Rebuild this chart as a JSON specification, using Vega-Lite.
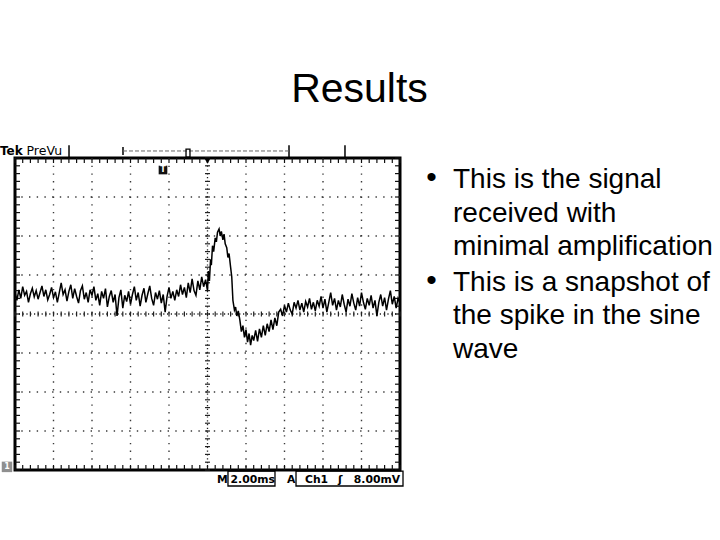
{
  "$schema": "https://vega.github.io/schema/vega-lite/v6.json",
  "width": 385,
  "height": 312,
  "autosize": {"type": "none"},
  "padding": {"left": 15, "top": 158, "right": 320, "bottom": 70},
  "background": "white",
  "config": {"view": {"stroke": "#000000", "strokeWidth": 3}},
  "datasets": {
    "sig": [
      {"t":0.00,"v":0.55},{"t":0.05,"v":0.35},{"t":0.10,"v":0.62},{"t":0.15,"v":0.40},{"t":0.20,"v":0.70},
      {"t":0.25,"v":0.48},{"t":0.30,"v":0.58},{"t":0.35,"v":0.30},{"t":0.40,"v":0.52},{"t":0.45,"v":0.66},
      {"t":0.50,"v":0.44},{"t":0.55,"v":0.60},{"t":0.60,"v":0.38},{"t":0.65,"v":0.55},{"t":0.70,"v":0.72},
      {"t":0.75,"v":0.45},{"t":0.80,"v":0.62},{"t":0.85,"v":0.36},{"t":0.90,"v":0.50},{"t":0.95,"v":0.68},
      {"t":1.00,"v":0.42},{"t":1.05,"v":0.57},{"t":1.10,"v":0.30},{"t":1.15,"v":0.55},{"t":1.20,"v":0.80},
      {"t":1.25,"v":0.50},{"t":1.30,"v":0.62},{"t":1.35,"v":0.33},{"t":1.40,"v":0.58},{"t":1.45,"v":0.75},
      {"t":1.50,"v":0.40},{"t":1.55,"v":0.65},{"t":1.60,"v":0.45},{"t":1.65,"v":0.28},{"t":1.70,"v":0.60},
      {"t":1.75,"v":0.72},{"t":1.80,"v":0.38},{"t":1.85,"v":0.55},{"t":1.90,"v":0.30},{"t":1.95,"v":0.62},
      {"t":2.00,"v":0.48},{"t":2.05,"v":0.70},{"t":2.10,"v":0.35},{"t":2.15,"v":0.52},{"t":2.20,"v":0.22},
      {"t":2.25,"v":0.58},{"t":2.30,"v":0.40},{"t":2.35,"v":0.65},{"t":2.40,"v":0.18},{"t":2.45,"v":0.45},
      {"t":2.50,"v":0.60},{"t":2.55,"v":0.30},{"t":2.60,"v":0.50},{"t":2.65,"v":-0.05},{"t":2.70,"v":0.42},
      {"t":2.75,"v":0.62},{"t":2.80,"v":0.15},{"t":2.85,"v":0.48},{"t":2.90,"v":0.32},{"t":2.95,"v":0.58},
      {"t":3.00,"v":0.25},{"t":3.05,"v":0.50},{"t":3.10,"v":0.70},{"t":3.15,"v":0.35},{"t":3.20,"v":0.55},
      {"t":3.25,"v":0.20},{"t":3.30,"v":0.48},{"t":3.35,"v":0.66},{"t":3.40,"v":0.30},{"t":3.45,"v":0.52},
      {"t":3.50,"v":0.72},{"t":3.55,"v":0.40},{"t":3.60,"v":0.22},{"t":3.65,"v":0.55},{"t":3.70,"v":0.38},
      {"t":3.75,"v":0.60},{"t":3.80,"v":0.28},{"t":3.85,"v":0.50},{"t":3.90,"v":0.05},{"t":3.95,"v":0.45},
      {"t":4.00,"v":0.68},{"t":4.05,"v":0.40},{"t":4.10,"v":0.58},{"t":4.15,"v":0.35},{"t":4.20,"v":0.62},
      {"t":4.25,"v":0.45},{"t":4.30,"v":0.75},{"t":4.35,"v":0.50},{"t":4.40,"v":0.68},{"t":4.45,"v":0.42},
      {"t":4.50,"v":0.80},{"t":4.55,"v":0.55},{"t":4.60,"v":0.90},{"t":4.65,"v":0.60},{"t":4.70,"v":0.48},
      {"t":4.75,"v":0.85},{"t":4.80,"v":0.62},{"t":4.85,"v":0.95},{"t":4.90,"v":0.70},{"t":4.95,"v":0.88},
      {"t":5.00,"v":0.60},{"t":5.02,"v":1.10},{"t":5.05,"v":0.85},{"t":5.08,"v":1.40},{"t":5.10,"v":1.25},
      {"t":5.13,"v":1.75},{"t":5.16,"v":1.60},{"t":5.20,"v":1.95},{"t":5.23,"v":1.85},{"t":5.26,"v":2.10},
      {"t":5.30,"v":2.18},{"t":5.33,"v":2.00},{"t":5.36,"v":2.12},{"t":5.40,"v":1.90},{"t":5.43,"v":2.05},
      {"t":5.46,"v":1.80},{"t":5.50,"v":1.70},{"t":5.53,"v":1.45},{"t":5.56,"v":1.55},{"t":5.60,"v":1.20},
      {"t":5.63,"v":0.95},{"t":5.66,"v":0.35},{"t":5.70,"v":0.10},{"t":5.73,"v":0.18},{"t":5.76,"v":-0.05},
      {"t":5.80,"v":0.08},{"t":5.84,"v":-0.15},{"t":5.88,"v":-0.45},{"t":5.92,"v":-0.30},{"t":5.96,"v":-0.60},
      {"t":6.00,"v":-0.40},{"t":6.04,"v":-0.72},{"t":6.08,"v":-0.50},{"t":6.12,"v":-0.80},{"t":6.16,"v":-0.55},
      {"t":6.20,"v":-0.68},{"t":6.25,"v":-0.42},{"t":6.30,"v":-0.70},{"t":6.35,"v":-0.38},{"t":6.40,"v":-0.60},
      {"t":6.45,"v":-0.30},{"t":6.50,"v":-0.55},{"t":6.55,"v":-0.25},{"t":6.60,"v":-0.45},{"t":6.65,"v":-0.15},
      {"t":6.70,"v":-0.40},{"t":6.75,"v":-0.10},{"t":6.80,"v":-0.30},{"t":6.85,"v":0.05},{"t":6.90,"v":0.12},
      {"t":6.95,"v":-0.05},{"t":7.00,"v":0.22},{"t":7.05,"v":0.05},{"t":7.10,"v":0.28},{"t":7.15,"v":0.10},
      {"t":7.20,"v":0.00},{"t":7.25,"v":0.30},{"t":7.30,"v":0.15},{"t":7.35,"v":0.35},{"t":7.40,"v":0.10},
      {"t":7.45,"v":0.28},{"t":7.50,"v":0.05},{"t":7.55,"v":0.32},{"t":7.60,"v":0.18},{"t":7.65,"v":0.40},
      {"t":7.70,"v":0.12},{"t":7.75,"v":0.30},{"t":7.80,"v":0.08},{"t":7.85,"v":0.35},{"t":7.90,"v":0.20},
      {"t":7.95,"v":0.45},{"t":8.00,"v":0.15},{"t":8.05,"v":0.38},{"t":8.10,"v":0.05},{"t":8.15,"v":0.30},
      {"t":8.20,"v":0.55},{"t":8.25,"v":0.22},{"t":8.30,"v":0.40},{"t":8.35,"v":0.10},{"t":8.40,"v":0.35},
      {"t":8.45,"v":0.18},{"t":8.50,"v":0.50},{"t":8.55,"v":0.25},{"t":8.60,"v":0.05},{"t":8.65,"v":0.38},
      {"t":8.70,"v":0.20},{"t":8.75,"v":0.52},{"t":8.80,"v":0.28},{"t":8.85,"v":0.10},{"t":8.90,"v":0.42},
      {"t":8.95,"v":0.20},{"t":9.00,"v":0.55},{"t":9.05,"v":0.30},{"t":9.10,"v":0.12},{"t":9.15,"v":0.40},
      {"t":9.20,"v":0.22},{"t":9.25,"v":0.48},{"t":9.30,"v":0.15},{"t":9.35,"v":0.35},{"t":9.40,"v":-0.05},
      {"t":9.45,"v":0.30},{"t":9.50,"v":0.50},{"t":9.55,"v":0.20},{"t":9.60,"v":0.42},{"t":9.65,"v":0.10},
      {"t":9.70,"v":0.38},{"t":9.75,"v":0.60},{"t":9.80,"v":0.25},{"t":9.85,"v":0.45},{"t":9.90,"v":0.15},
      {"t":9.95,"v":0.40},{"t":10.00,"v":0.28}
    ],
    "gx": [{"v":1},{"v":2},{"v":3},{"v":4},{"v":6},{"v":7},{"v":8},{"v":9}],
    "gy": [{"v":-3},{"v":-2},{"v":-1},{"v":1},{"v":2},{"v":3}],
    "tx": [
      {"v":0},{"v":0.2},{"v":0.4},{"v":0.6},{"v":0.8},{"v":1},{"v":1.2},{"v":1.4},{"v":1.6},{"v":1.8},
      {"v":2},{"v":2.2},{"v":2.4},{"v":2.6},{"v":2.8},{"v":3},{"v":3.2},{"v":3.4},{"v":3.6},{"v":3.8},
      {"v":4},{"v":4.2},{"v":4.4},{"v":4.6},{"v":4.8},{"v":5},{"v":5.2},{"v":5.4},{"v":5.6},{"v":5.8},
      {"v":6},{"v":6.2},{"v":6.4},{"v":6.6},{"v":6.8},{"v":7},{"v":7.2},{"v":7.4},{"v":7.6},{"v":7.8},
      {"v":8},{"v":8.2},{"v":8.4},{"v":8.6},{"v":8.8},{"v":9},{"v":9.2},{"v":9.4},{"v":9.6},{"v":9.8},{"v":10}
    ],
    "ty": [
      {"v":-4},{"v":-3.8},{"v":-3.6},{"v":-3.4},{"v":-3.2},{"v":-3},{"v":-2.8},{"v":-2.6},{"v":-2.4},{"v":-2.2},
      {"v":-2},{"v":-1.8},{"v":-1.6},{"v":-1.4},{"v":-1.2},{"v":-1},{"v":-0.8},{"v":-0.6},{"v":-0.4},{"v":-0.2},
      {"v":0},{"v":0.2},{"v":0.4},{"v":0.6},{"v":0.8},{"v":1},{"v":1.2},{"v":1.4},{"v":1.6},{"v":1.8},
      {"v":2},{"v":2.2},{"v":2.4},{"v":2.6},{"v":2.8},{"v":3},{"v":3.2},{"v":3.4},{"v":3.6},{"v":3.8},{"v":4}
    ],
    "hdr": [
      {"x":1.403,"y":4.0,"y2":4.33},
      {"x":7.117,"y":4.0,"y2":4.33},
      {"x":8.571,"y":4.0,"y2":4.33},
      {"x":2.805,"y":4.08,"y2":4.28}
    ],
    "hseg": [{"x":2.805,"x2":7.117,"y":4.18}],
    "boxes": [
      {"x":4.442,"x2":4.545,"y":4.02,"y2":4.23,"k":"top"},
      {"x":5.532,"x2":6.753,"y":-4.03,"y2":-4.41,"k":"bot"},
      {"x":7.299,"x2":10.078,"y":-4.03,"y2":-4.41,"k":"bot"}
    ],
    "pts": [
      {"x":5,"y":3.93,"k":"trig"},
      {"x":3.844,"y":3.692,"k":"tmark"},
      {"x":-0.208,"y":-3.92,"k":"gnd"}
    ],
    "txt": [
      {"x":8.948,"y":5.44,"label":"Results","g":"title"},
      {"x":10.68,"y":3.231,"label":"•","g":"bullet"},
      {"x":10.68,"y":0.590,"label":"•","g":"bullet"},
      {"x":11.377,"y":3.231,"label":"This is the signal","g":"body"},
      {"x":11.377,"y":2.359,"label":"received with","g":"body"},
      {"x":11.377,"y":1.513,"label":"minimal amplification","g":"body"},
      {"x":11.377,"y":0.590,"label":"This is a snapshot of","g":"body"},
      {"x":11.377,"y":-0.256,"label":"the spike in the sine","g":"body"},
      {"x":11.377,"y":-1.128,"label":"wave","g":"body"},
      {"x":-0.39,"y":4.077,"label":"Tek","g":"tek"},
      {"x":0.30,"y":4.077,"label":"PreVu","g":"prevu"},
      {"x":5.247,"y":-4.33,"label":"M","g":"osc"},
      {"x":5.60,"y":-4.33,"label":"2.00ms","g":"osc"},
      {"x":7.065,"y":-4.33,"label":"A","g":"osc"},
      {"x":7.532,"y":-4.33,"label":"Ch1","g":"osc"},
      {"x":8.39,"y":-4.33,"label":"ʃ","g":"osc"},
      {"x":8.80,"y":-4.33,"label":"8.00mV","g":"osc"},
      {"x":3.844,"y":3.692,"label":"T","g":"tm"},
      {"x":-0.208,"y":-3.92,"label":"1","g":"gn"}
    ]
  },
  "layer": [
    {
      "data": {"name": "gx"},
      "mark": {"type": "rule", "color": "#3a3a3a", "strokeWidth": 1.4, "strokeDash": [1.4, 6.3]},
      "encoding": {
        "x": {"field": "v", "type": "quantitative", "scale": {"domain": [0, 10], "nice": false, "zero": false}, "axis": null}
      }
    },
    {
      "data": {"name": "gy"},
      "mark": {"type": "rule", "color": "#3a3a3a", "strokeWidth": 1.4, "strokeDash": [1.4, 6.3]},
      "encoding": {
        "y": {"field": "v", "type": "quantitative", "scale": {"domain": [-4, 4], "nice": false, "zero": false}, "axis": null}
      }
    },
    {
      "data": {"values": [{"v": 5}]},
      "mark": {"type": "rule", "color": "#222222", "strokeWidth": 1.3, "strokeDash": [1.2, 2.6]},
      "encoding": {
        "x": {"field": "v", "type": "quantitative", "scale": {"domain": [0, 10], "nice": false, "zero": false}, "axis": null}
      }
    },
    {
      "data": {"values": [{"v": 0}]},
      "mark": {"type": "rule", "color": "#222222", "strokeWidth": 1.3, "strokeDash": [1.2, 2.6]},
      "encoding": {
        "y": {"field": "v", "type": "quantitative", "scale": {"domain": [-4, 4], "nice": false, "zero": false}, "axis": null}
      }
    },
    {
      "data": {"name": "ty"},
      "mark": {"type": "rule", "color": "#222222", "strokeWidth": 1.2, "xOffset": -2.5, "x2Offset": 2.5},
      "encoding": {
        "x": {"datum": 5, "type": "quantitative", "scale": {"domain": [0, 10], "nice": false, "zero": false}, "axis": null},
        "x2": {"datum": 5},
        "y": {"field": "v", "type": "quantitative", "scale": {"domain": [-4, 4], "nice": false, "zero": false}, "axis": null}
      }
    },
    {
      "data": {"name": "tx"},
      "mark": {"type": "rule", "color": "#222222", "strokeWidth": 1.2, "yOffset": -2.5, "y2Offset": 2.5},
      "encoding": {
        "x": {"field": "v", "type": "quantitative", "scale": {"domain": [0, 10], "nice": false, "zero": false}, "axis": null},
        "y": {"datum": 0, "type": "quantitative", "scale": {"domain": [-4, 4], "nice": false, "zero": false}, "axis": null},
        "y2": {"datum": 0}
      }
    },
    {
      "data": {"name": "tx"},
      "mark": {"type": "rule", "color": "#111111", "strokeWidth": 1.2, "yOffset": 0, "y2Offset": 5},
      "encoding": {
        "x": {"field": "v", "type": "quantitative", "scale": {"domain": [0, 10], "nice": false, "zero": false}, "axis": null},
        "y": {"datum": 4, "type": "quantitative", "scale": {"domain": [-4, 4], "nice": false, "zero": false}, "axis": null},
        "y2": {"datum": 4}
      }
    },
    {
      "data": {"name": "tx"},
      "mark": {"type": "rule", "color": "#111111", "strokeWidth": 1.2, "yOffset": -5, "y2Offset": 0},
      "encoding": {
        "x": {"field": "v", "type": "quantitative", "scale": {"domain": [0, 10], "nice": false, "zero": false}, "axis": null},
        "y": {"datum": -4, "type": "quantitative", "scale": {"domain": [-4, 4], "nice": false, "zero": false}, "axis": null},
        "y2": {"datum": -4}
      }
    },
    {
      "data": {"name": "ty"},
      "mark": {"type": "rule", "color": "#111111", "strokeWidth": 1.2, "xOffset": 0, "x2Offset": 5},
      "encoding": {
        "x": {"datum": 0, "type": "quantitative", "scale": {"domain": [0, 10], "nice": false, "zero": false}, "axis": null},
        "x2": {"datum": 0},
        "y": {"field": "v", "type": "quantitative", "scale": {"domain": [-4, 4], "nice": false, "zero": false}, "axis": null}
      }
    },
    {
      "data": {"name": "ty"},
      "mark": {"type": "rule", "color": "#111111", "strokeWidth": 1.2, "xOffset": -5, "x2Offset": 0},
      "encoding": {
        "x": {"datum": 10, "type": "quantitative", "scale": {"domain": [0, 10], "nice": false, "zero": false}, "axis": null},
        "x2": {"datum": 10},
        "y": {"field": "v", "type": "quantitative", "scale": {"domain": [-4, 4], "nice": false, "zero": false}, "axis": null}
      }
    },
    {
      "data": {"name": "sig"},
      "mark": {"type": "line", "color": "#000000", "strokeWidth": 1.5},
      "encoding": {
        "x": {"field": "t", "type": "quantitative", "scale": {"domain": [0, 10], "nice": false, "zero": false}, "axis": null},
        "y": {"field": "v", "type": "quantitative", "scale": {"domain": [-4, 4], "nice": false, "zero": false}, "axis": null}
      }
    },
    {
      "data": {"name": "hdr"},
      "mark": {"type": "rule", "color": "#000000", "strokeWidth": 1.5},
      "encoding": {
        "x": {"field": "x", "type": "quantitative", "scale": {"domain": [0, 10], "nice": false, "zero": false}, "axis": null},
        "y": {"field": "y", "type": "quantitative", "scale": {"domain": [-4, 4], "nice": false, "zero": false}, "axis": null},
        "y2": {"field": "y2"}
      }
    },
    {
      "data": {"name": "hseg"},
      "mark": {"type": "rule", "color": "#666666", "strokeWidth": 1, "strokeDash": [4, 2]},
      "encoding": {
        "x": {"field": "x", "type": "quantitative", "scale": {"domain": [0, 10], "nice": false, "zero": false}, "axis": null},
        "x2": {"field": "x2"},
        "y": {"field": "y", "type": "quantitative", "scale": {"domain": [-4, 4], "nice": false, "zero": false}, "axis": null}
      }
    },
    {
      "data": {"name": "boxes"},
      "mark": {"type": "rect", "filled": false, "stroke": "#000000", "strokeWidth": 1.3},
      "encoding": {
        "x": {"field": "x", "type": "quantitative", "scale": {"domain": [0, 10], "nice": false, "zero": false}, "axis": null},
        "x2": {"field": "x2"},
        "y": {"field": "y", "type": "quantitative", "scale": {"domain": [-4, 4], "nice": false, "zero": false}, "axis": null},
        "y2": {"field": "y2"}
      }
    },
    {
      "data": {"name": "pts"},
      "transform": [{"filter": "datum.k === 'trig'"}],
      "mark": {"type": "point", "shape": "triangle-down", "filled": true, "color": "#000000", "size": 45, "opacity": 1},
      "encoding": {
        "x": {"field": "x", "type": "quantitative", "scale": {"domain": [0, 10], "nice": false, "zero": false}, "axis": null},
        "y": {"field": "y", "type": "quantitative", "scale": {"domain": [-4, 4], "nice": false, "zero": false}, "axis": null}
      }
    },
    {
      "data": {"name": "pts"},
      "transform": [{"filter": "datum.k === 'tmark'"}],
      "mark": {"type": "point", "shape": "square", "filled": true, "color": "#111111", "size": 75, "opacity": 1},
      "encoding": {
        "x": {"field": "x", "type": "quantitative", "scale": {"domain": [0, 10], "nice": false, "zero": false}, "axis": null},
        "y": {"field": "y", "type": "quantitative", "scale": {"domain": [-4, 4], "nice": false, "zero": false}, "axis": null}
      }
    },
    {
      "data": {"name": "pts"},
      "transform": [{"filter": "datum.k === 'gnd'"}],
      "mark": {"type": "point", "shape": "square", "filled": true, "color": "#8f8f8f", "size": 110, "opacity": 1},
      "encoding": {
        "x": {"field": "x", "type": "quantitative", "scale": {"domain": [0, 10], "nice": false, "zero": false}, "axis": null},
        "y": {"field": "y", "type": "quantitative", "scale": {"domain": [-4, 4], "nice": false, "zero": false}, "axis": null}
      }
    },
    {
      "data": {"name": "txt"},
      "transform": [{"filter": "datum.g === 'title'"}],
      "mark": {"type": "text", "font": "Liberation Sans", "fontSize": 41, "align": "center", "baseline": "alphabetic", "color": "#000000"},
      "encoding": {
        "x": {"field": "x", "type": "quantitative", "scale": {"domain": [0, 10], "nice": false, "zero": false}, "axis": null},
        "y": {"field": "y", "type": "quantitative", "scale": {"domain": [-4, 4], "nice": false, "zero": false}, "axis": null},
        "text": {"field": "label"}
      }
    },
    {
      "data": {"name": "txt"},
      "transform": [{"filter": "datum.g === 'bullet'"}],
      "mark": {"type": "text", "font": "Liberation Sans", "fontSize": 30, "align": "left", "baseline": "alphabetic", "color": "#000000", "dy": -1},
      "encoding": {
        "x": {"field": "x", "type": "quantitative", "scale": {"domain": [0, 10], "nice": false, "zero": false}, "axis": null},
        "y": {"field": "y", "type": "quantitative", "scale": {"domain": [-4, 4], "nice": false, "zero": false}, "axis": null},
        "text": {"field": "label"}
      }
    },
    {
      "data": {"name": "txt"},
      "transform": [{"filter": "datum.g === 'body'"}],
      "mark": {"type": "text", "font": "Liberation Sans", "fontSize": 28, "align": "left", "baseline": "alphabetic", "color": "#000000"},
      "encoding": {
        "x": {"field": "x", "type": "quantitative", "scale": {"domain": [0, 10], "nice": false, "zero": false}, "axis": null},
        "y": {"field": "y", "type": "quantitative", "scale": {"domain": [-4, 4], "nice": false, "zero": false}, "axis": null},
        "text": {"field": "label"}
      }
    },
    {
      "data": {"name": "txt"},
      "transform": [{"filter": "datum.g === 'tek'"}],
      "mark": {"type": "text", "font": "DejaVu Sans", "fontSize": 12, "fontWeight": "bold", "align": "left", "baseline": "alphabetic", "color": "#000000"},
      "encoding": {
        "x": {"field": "x", "type": "quantitative", "scale": {"domain": [0, 10], "nice": false, "zero": false}, "axis": null},
        "y": {"field": "y", "type": "quantitative", "scale": {"domain": [-4, 4], "nice": false, "zero": false}, "axis": null},
        "text": {"field": "label"}
      }
    },
    {
      "data": {"name": "txt"},
      "transform": [{"filter": "datum.g === 'prevu'"}],
      "mark": {"type": "text", "font": "DejaVu Sans", "fontSize": 12.5, "align": "left", "baseline": "alphabetic", "color": "#000000"},
      "encoding": {
        "x": {"field": "x", "type": "quantitative", "scale": {"domain": [0, 10], "nice": false, "zero": false}, "axis": null},
        "y": {"field": "y", "type": "quantitative", "scale": {"domain": [-4, 4], "nice": false, "zero": false}, "axis": null},
        "text": {"field": "label"}
      }
    },
    {
      "data": {"name": "txt"},
      "transform": [{"filter": "datum.g === 'osc'"}],
      "mark": {"type": "text", "font": "DejaVu Sans", "fontSize": 10.8, "fontWeight": "bold", "align": "left", "baseline": "alphabetic", "color": "#000000"},
      "encoding": {
        "x": {"field": "x", "type": "quantitative", "scale": {"domain": [0, 10], "nice": false, "zero": false}, "axis": null},
        "y": {"field": "y", "type": "quantitative", "scale": {"domain": [-4, 4], "nice": false, "zero": false}, "axis": null},
        "text": {"field": "label"}
      }
    },
    {
      "data": {"name": "txt"},
      "transform": [{"filter": "datum.g === 'tm' || datum.g === 'gn'"}],
      "mark": {"type": "text", "font": "DejaVu Sans", "fontSize": 8, "fontWeight": "bold", "align": "center", "baseline": "middle", "color": "#ffffff"},
      "encoding": {
        "x": {"field": "x", "type": "quantitative", "scale": {"domain": [0, 10], "nice": false, "zero": false}, "axis": null},
        "y": {"field": "y", "type": "quantitative", "scale": {"domain": [-4, 4], "nice": false, "zero": false}, "axis": null},
        "text": {"field": "label"}
      }
    }
  ]
}
